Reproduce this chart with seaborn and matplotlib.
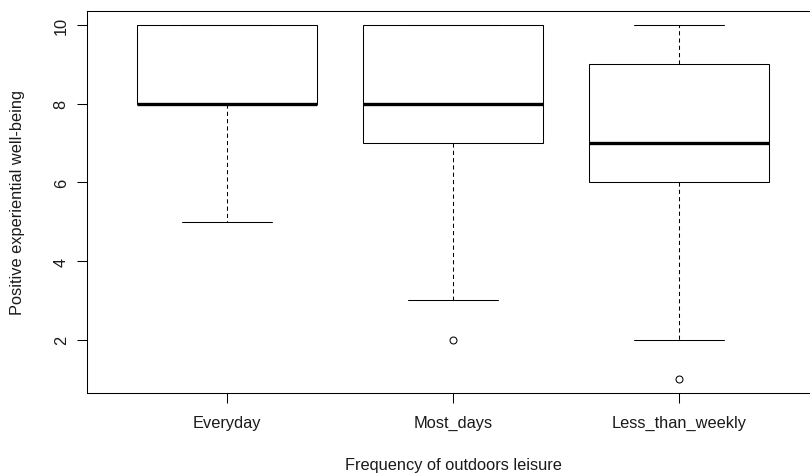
import numpy as np
import pandas as pd
import matplotlib
matplotlib.use("Agg")
import matplotlib.pyplot as plt
import seaborn as sns

categories = ["Everyday", "Most_days", "Less_than_weekly"]
everyday = [5, 8, 8, 8, 8, 10, 10, 10]
most_days = [2, 3, 7, 7, 8, 8, 10, 10, 10]
less_than_weekly = [1, 2, 6, 6, 7, 9, 9, 10, 10]
y_ticks = [2, 4, 6, 8, 10]

df = pd.DataFrame({
    "freq": (["Everyday"] * len(everyday) + ["Most_days"] * len(most_days)
             + ["Less_than_weekly"] * len(less_than_weekly)),
    "wb": everyday + most_days + less_than_weekly,
})

sns.set_style("white")
plt.rcParams["font.family"] = ["Liberation Sans", "DejaVu Sans"]

fig = plt.figure(figsize=(8.1, 4.77), dpi=100)
ax = fig.add_axes([87 / 810, 1 - 394 / 477, (819 - 87) / 810, (394 - 12) / 477])

sns.boxplot(data=df, x="freq", y="wb", order=categories, ax=ax,
            color="white", linecolor="black", linewidth=0.75, width=0.8,
            whis=1.5, fill=True,
            boxprops=dict(facecolor="white", edgecolor="black"),
            whiskerprops=dict(linestyle=(0, (4, 3)), color="black"),
            capprops=dict(color="black"),
            medianprops=dict(linewidth=2.4, color="black"),
            flierprops=dict(marker="o", markersize=5, markerfacecolor="none",
                            markeredgecolor="black", markeredgewidth=0.75))

ax.set_xlim(0.38 - 1, 3.62 - 1)
ax.set_ylim(0.64, 10.36)
ax.set_yticks(y_ticks)
ax.set_yticklabels([str(v) for v in y_ticks], rotation=90, va="center")
fs = 11.8
ax.tick_params(axis="both", which="both", direction="out", length=7.2,
               width=0.75, color="black", labelsize=fs, labelcolor="#1a1a1a",
               left=True, bottom=True)
ax.tick_params(axis="y", pad=6)
ax.tick_params(axis="x", pad=8.5)

for s in ax.spines.values():
    s.set_visible(True)
    s.set_color("black")
    s.set_linewidth(0.75)

ax.set_xlabel("Frequency of outdoors leisure", fontsize=fs, color="#1a1a1a")
ax.set_ylabel("Positive experiential well-being", fontsize=fs, color="#1a1a1a")
ax.xaxis.set_label_coords(0.5, (394 - 466) / 382)
ax.xaxis.label.set_va("center")
ax.yaxis.set_label_coords((18 - 87) / 732, 0.5)
ax.yaxis.label.set_va("center")

fig.savefig("out.png", dpi=100, facecolor="white")
